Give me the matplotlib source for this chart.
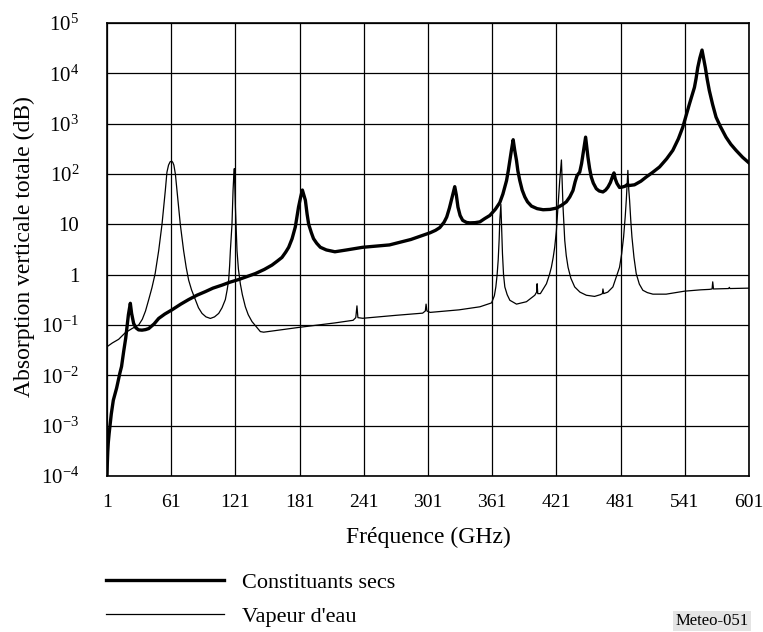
import matplotlib
matplotlib.use("Agg")
import matplotlib.pyplot as plt
from matplotlib.ticker import FixedLocator, NullLocator

plt.rcParams['font.family'] = ['Liberation Serif', 'DejaVu Serif']
plt.rcParams['mathtext.fontset'] = 'custom'
plt.rcParams['mathtext.rm'] = 'Liberation Serif'
plt.rcParams['mathtext.it'] = 'Liberation Serif:italic'

# Constituants secs (trait épais)
dry_freq = [1, 1.3, 1.7, 2.2, 3, 3.8, 5, 6.9, 10, 13, 14.6, 16.6, 18.5, 19.7, 21, 22.8,
            24, 25.9, 28, 30.5, 33.7, 37, 40, 45, 49.3, 55, 61.7, 70, 77.3, 85, 92.9,
            100, 108.5, 116, 124, 132, 139.6, 148, 155.2, 160, 164.5, 168, 170.8, 174,
            177, 180, 182, 183.6, 185, 186.4, 188, 189.5, 192, 194, 197, 200.4, 206,
            214, 225, 240, 265, 285, 303, 308, 312, 316, 318.5, 321, 323, 325, 326,
            327.5, 329, 331, 333.4, 337, 340, 345, 349.5, 354, 358.8, 364, 368.1, 371,
            374.4, 376, 377.5, 379, 380.6, 382, 383.7, 385, 386.8, 389, 391.5, 394,
            397.7, 403, 408.6, 415, 421, 426, 430.3, 433.5, 436.5, 438.5, 440.3, 441.5,
            442.8, 444.5, 445.9, 447.2, 448.3, 449.5, 450.5, 452, 453.6, 455.5, 458.3,
            461, 464.5, 467, 469.2, 471.5, 473.5, 474.8, 476, 477.6, 480, 482.5, 485,
            487.5, 489, 494, 500, 504.9, 511, 517.4, 524, 529.8, 535, 539.1, 542, 545.3,
            548, 550, 551.5, 553.1, 555, 557.1, 558.5, 560.2, 562, 563.9, 567, 570.2,
            574, 579.5, 584, 588.9, 595, 601]
dry_att = [1e-4, 1.8e-4, 3e-4, 4.6e-4, 7e-4, 1e-3, 1.7e-3, 3.2e-3, 5.6e-3, 0.011, 0.015,
           0.03, 0.055, 0.093, 0.16, 0.27, 0.17, 0.107, 0.088, 0.08, 0.079, 0.081, 0.085,
           0.105, 0.135, 0.165, 0.2, 0.26, 0.32, 0.39, 0.46, 0.54, 0.62, 0.71, 0.8, 0.92,
           1.05, 1.27, 1.55, 1.85, 2.2, 2.8, 3.5, 5.2, 8.9, 22, 35, 48, 38, 30, 16, 10,
           6.8, 5.2, 4.2, 3.5, 3.1, 2.85, 3.1, 3.5, 3.9, 5, 6.8, 7.6, 8.6, 11, 14, 21, 31,
           46, 56, 38, 22, 15, 12, 10.9, 10.7, 10.8, 11.2, 13, 15, 20, 27, 40, 74, 115,
           186, 300, 480, 300, 186, 115, 74, 48, 35, 28, 23, 20.5, 19.5, 19.8, 21, 24, 28,
           35, 47, 70, 93, 100, 109, 160, 250, 380, 540, 330, 215, 130, 87, 66, 51, 46,
           44, 48, 55, 68, 90, 105, 80, 65, 54, 55, 57, 62, 59, 61, 72, 87, 108, 138, 200,
           295, 500, 850, 1400, 2450, 3800, 5250, 7800, 13000, 20000, 29000, 20000, 13000,
           7500, 4560, 2400, 1350, 900, 540, 390, 295, 215, 166]

# Vapeur d'eau (trait fin)
wv_freq = [1, 6, 11.9, 18, 24.4, 30.6, 34, 37, 40, 43, 46, 49.3, 52.4, 54, 55.5, 57, 58.5,
           60, 61.5, 62.5, 63.5, 64.9, 66.4, 68, 69.5, 72.6, 75, 77.3, 80, 83.5, 86.5,
           89.8, 93.5, 97.6, 101.5, 105.4, 108.5, 111.6, 113.3, 114.7, 115.6, 116.3,
           117.1, 117.8, 118.4, 118.8, 119.4, 120, 120.5, 121, 121.6, 122.5, 123.8,
           125.6, 127.5, 130.3, 133, 136.5, 140, 144.3, 147.4, 181, 214, 231, 233.5,
           234.6, 235.5, 240, 270, 296, 298.5, 299.2, 300, 303, 330, 349.5, 360.4, 363,
           364.4, 365.6, 366.6, 367.5, 368.1, 369.1, 369.9, 370.6, 371.6, 372.8, 375,
           377.5, 383.7, 393, 400.8, 402.5, 403, 403.6, 406, 411.7, 414.5, 416.3, 418,
           419.4, 421, 422.5, 423.4, 424.1, 425.7, 426.5, 427.2, 428, 428.8, 430.2, 431.9,
           434.5, 438.1, 443, 449, 456.7, 462, 464, 464.5, 465.2, 469, 473.8, 477, 480,
           482, 483.8, 485.3, 486.3, 487.8, 488.6, 489.4, 490.5, 491.6, 493.5, 495.6,
           498.5, 501.8, 506, 511.2, 523.6, 540.7, 556, 564, 566.5, 567.1, 567.8, 582,
           582.6, 583.2, 601]
wv_att = [0.037, 0.044, 0.052, 0.07, 0.085, 0.1, 0.13, 0.19, 0.32, 0.55, 1.05, 3, 10, 22,
          47, 108, 150, 175, 180, 170, 150, 100, 47, 22, 10, 3, 1.4, 0.78, 0.5, 0.32,
          0.22, 0.17, 0.145, 0.135, 0.145, 0.17, 0.22, 0.32, 0.5, 0.78, 1.5, 3, 5.5, 10,
          25, 47, 85, 128, 50, 22, 10, 3, 1.3, 0.66, 0.4, 0.23, 0.16, 0.117, 0.095, 0.074,
          0.072, 0.09, 0.11, 0.124, 0.14, 0.24, 0.14, 0.136, 0.155, 0.172, 0.19, 0.26,
          0.19, 0.178, 0.2, 0.23, 0.275, 0.38, 0.57, 1.0, 1.95, 5, 12, 25, 8, 2.6, 1.0,
          0.57, 0.4, 0.31, 0.26, 0.29, 0.39, 0.45, 0.66, 0.42, 0.42, 0.66, 1.0, 1.4, 2.2,
          3.5, 7.5, 22, 45, 74, 190, 60, 22, 10, 4.8, 2.4, 1.4, 0.85, 0.57, 0.45, 0.39,
          0.37, 0.4, 0.42, 0.52, 0.42, 0.45, 0.57, 0.9, 1.4, 2.6, 5.6, 14, 30, 118, 50,
          30, 12, 5.6, 2.2, 1.05, 0.65, 0.49, 0.44, 0.41, 0.41, 0.47, 0.5, 0.51, 0.52,
          0.72, 0.52, 0.53, 0.56, 0.53, 0.54]

x_ticks = list(range(1, 602, 60))
y_ticks = [1e-4, 1e-3, 1e-2, 1e-1, 1, 10, 1e2, 1e3, 1e4, 1e5]
y_labels = [r'$10^{-4}$', r'$10^{-3}$', r'$10^{-2}$', r'$10^{-1}$', '1', '10',
            r'$10^{2}$', r'$10^{3}$', r'$10^{4}$', r'$10^{5}$']

W, H = 763, 632
fig = plt.figure(figsize=(W / 100, H / 100), dpi=100)
ax = fig.add_axes([107 / W, 1 - 476 / H, 642 / W, 453 / H])

dry_line, = ax.plot(dry_freq, dry_att, color='black', lw=2.4,
                    label='Constituants secs', zorder=3)
wv_line, = ax.plot(wv_freq, wv_att, color='black', lw=0.9,
                   label="Vapeur d'eau", zorder=3)

ax.set_yscale('log')
ax.set_xlim(1, 601)
ax.set_ylim(1e-4, 1e5)
ax.xaxis.set_major_locator(FixedLocator(x_ticks))
ax.yaxis.set_major_locator(FixedLocator(y_ticks))
ax.yaxis.set_minor_locator(NullLocator())
ax.set_yticklabels(y_labels)
ax.tick_params(axis='x', length=0, pad=13, labelsize=14)
ax.tick_params(axis='y', length=0, pad=20, labelsize=15)
ax.grid(True, color='black', lw=0.9)
for s in ax.spines.values():
    s.set_linewidth(1.2)

fig.text(428 / W, 1 - 537 / H, 'Fréquence (GHz)', ha='center', va='center', fontsize=17)
fig.text(24 / W, 1 - 247 / H, 'Absorption verticale totale (dB)', ha='center',
         va='center', rotation=90, fontsize=17)

fig.legend(handles=[dry_line, wv_line], loc='upper left',
           bbox_to_anchor=(106 / W, 1 - 572 / H), frameon=False, fontsize=16,
           handlelength=5.3, handletextpad=0.8, labelspacing=0.62,
           borderpad=0, borderaxespad=0)

fig.text(712 / W, 1 - 621 / H, 'Meteo-051', ha='center', va='center', fontsize=12,
         bbox=dict(facecolor='#e4e4e4', edgecolor='none', pad=1.5))

fig.savefig('out.png', dpi=100)
